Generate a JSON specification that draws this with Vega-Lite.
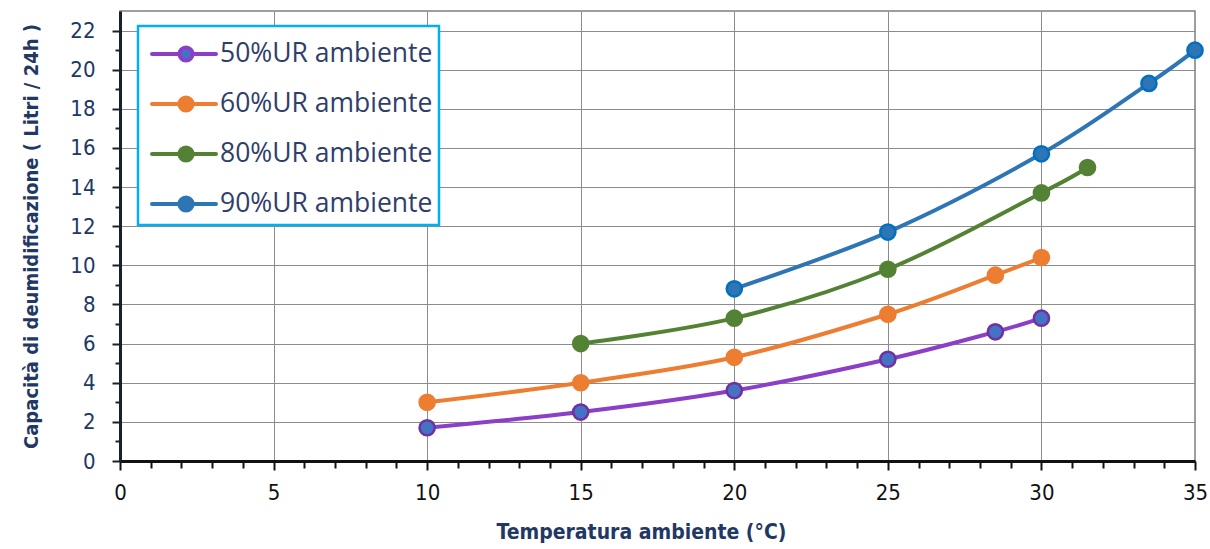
{
  "$schema": "https://vega.github.io/schema/vega-lite/v6.json",
  "autosize": {"type": "none"},
  "width": 1075,
  "height": 450,
  "padding": {"left": 120, "top": 11, "right": 15, "bottom": 88},
  "background": "white",
  "config": {
    "view": {"stroke": "#7F7F7F", "strokeWidth": 1.5},
    "font": "'DejaVu Sans Condensed', Roboto, sans-serif"
  },
  "data": {
    "values": [
      {"serie": "50%UR ambiente", "t": 10, "c": 1.7},
      {"serie": "50%UR ambiente", "t": 15, "c": 2.5},
      {"serie": "50%UR ambiente", "t": 20, "c": 3.6},
      {"serie": "50%UR ambiente", "t": 25, "c": 5.2},
      {"serie": "50%UR ambiente", "t": 28.5, "c": 6.6},
      {"serie": "50%UR ambiente", "t": 30, "c": 7.3},
      {"serie": "60%UR ambiente", "t": 10, "c": 3.0},
      {"serie": "60%UR ambiente", "t": 15, "c": 4.0},
      {"serie": "60%UR ambiente", "t": 20, "c": 5.3},
      {"serie": "60%UR ambiente", "t": 25, "c": 7.5},
      {"serie": "60%UR ambiente", "t": 28.5, "c": 9.5},
      {"serie": "60%UR ambiente", "t": 30, "c": 10.4},
      {"serie": "80%UR ambiente", "t": 15, "c": 6.0},
      {"serie": "80%UR ambiente", "t": 20, "c": 7.3},
      {"serie": "80%UR ambiente", "t": 25, "c": 9.8},
      {"serie": "80%UR ambiente", "t": 30, "c": 13.7},
      {"serie": "80%UR ambiente", "t": 31.5, "c": 15.0},
      {"serie": "90%UR ambiente", "t": 20, "c": 8.8},
      {"serie": "90%UR ambiente", "t": 25, "c": 11.7},
      {"serie": "90%UR ambiente", "t": 30, "c": 15.7},
      {"serie": "90%UR ambiente", "t": 33.5, "c": 19.3},
      {"serie": "90%UR ambiente", "t": 35, "c": 21.0}
    ]
  },
  "encoding": {
    "x": {
      "field": "t", "type": "quantitative",
      "scale": {"domain": [0, 35], "nice": false, "zero": false},
      "axis": {
        "title": "Temperatura ambiente (°C)",
        "values": [0,1,2,3,4,5,6,7,8,9,10,11,12,13,14,15,16,17,18,19,20,21,22,23,24,25,26,27,28,29,30,31,32,33,34,35],
        "labelExpr": "datum.value % 5 === 0 ? datum.label : ''",
        "labelOverlap": false,
        "labelFont": "'DejaVu Sans Condensed', Roboto, sans-serif",
        "labelFontSize": 22,
        "labelColor": "#111111",
        "labelPadding": 12,
        "labelFlush": false,
        "domainColor": "#111111",
        "domainWidth": 3,
        "tickColor": "#111111",
        "tickWidth": 2,
        "tickSize": {"condition": {"test": "datum.value % 5 === 0", "value": 9}, "value": 7},
        "grid": true,
        "gridColor": "#8C8C8C",
        "gridWidth": 1,
        "gridOpacity": {"condition": {"test": "datum.value % 5 === 0 && datum.value > 0 && datum.value < 35", "value": 1}, "value": 0},
        "titleFont": "'DejaVu Sans Condensed', Roboto, sans-serif",
        "titleFontSize": 21,
        "titleFontWeight": "bold",
        "titleColor": "#1F3864",
        "titlePadding": 18,
        "titleX": 521
      }
    },
    "y": {
      "field": "c", "type": "quantitative",
      "scale": {"domain": [0, 23], "nice": false},
      "axis": {
        "title": "Capacità di deumidificazione ( Litri / 24h )",
        "values": [0,1,2,3,4,5,6,7,8,9,10,11,12,13,14,15,16,17,18,19,20,21,22],
        "labelExpr": "datum.value % 2 === 0 ? datum.label : ''",
        "labelOverlap": false,
        "labelFont": "'DejaVu Sans Condensed', Roboto, sans-serif",
        "labelFontSize": 22,
        "labelColor": "#203864",
        "labelPadding": 17,
        "labelFlush": false,
        "domainColor": "#1A2030",
        "domainWidth": 3,
        "tickColor": "#1A2030",
        "tickWidth": 2,
        "tickSize": {"condition": {"test": "datum.value % 2 === 0", "value": 8}, "value": 5},
        "grid": true,
        "gridColor": "#8C8C8C",
        "gridWidth": 1,
        "gridOpacity": {"condition": {"test": "datum.value % 2 === 0 && datum.value > 0", "value": 1}, "value": 0},
        "titleFont": "'DejaVu Sans Condensed', Roboto, sans-serif",
        "titleFontSize": 20,
        "titleFontWeight": "bold",
        "titleColor": "#1F3864",
        "titlePadding": 28
      }
    }
  },
  "layer": [
    {
      "mark": {"type": "line", "strokeWidth": 4, "interpolate": "cardinal", "strokeCap": "round"},
      "encoding": {
        "color": {
          "field": "serie", "type": "nominal",
          "scale": {
            "domain": ["50%UR ambiente", "60%UR ambiente", "80%UR ambiente", "90%UR ambiente"],
            "range": ["#8B3FC8", "#ED7D31", "#548235", "#2E75B6"]
          },
          "legend": {
            "title": null,
            "orient": "none",
            "legendX": 18,
            "legendY": 15,
            "padding": 6,
            "fillColor": "white",
            "strokeColor": "#00B0F0",
            "symbolType": "M-0.7,0L0.67,0M1.33,0L2.5,0M1.33,0A0.33,0.33,0,1,1,0.67,0A0.33,0.33,0,1,1,1.33,0Z",
            "symbolSize": 1600,
            "symbolStrokeWidth": 4,
            "rowPadding": 13,
            "labelOffset": 32,
            "labelFont": "Open Sans",
            "labelFontSize": 26.5,
            "labelColor": "#2F3E6B",
            "labelLimit": 400,
            "encode": {
              "legend": {
                "update": {"strokeWidth": {"value": 2.5}}
              },
              "symbols": {
                "update": {
                  "fill": {"scale": "fill", "field": "value"},
                  "fillOpacity": {"value": 1},
                  "strokeCap": {"value": "round"}
                }
              }
            }
          }
        }
      }
    },
    {
      "mark": {"type": "point", "filled": true, "size": 230, "strokeWidth": 2.5, "opacity": 1, "fillOpacity": 1, "strokeOpacity": 1},
      "encoding": {
        "fill": {
          "field": "serie", "type": "nominal",
          "scale": {
            "domain": ["50%UR ambiente", "60%UR ambiente", "80%UR ambiente", "90%UR ambiente"],
            "range": ["#4472C4", "#ED7D31", "#548235", "#2E75B6"]
          },
          "legend": null
        },
        "stroke": {
          "field": "serie", "type": "nominal",
          "scale": {
            "domain": ["50%UR ambiente", "60%UR ambiente", "80%UR ambiente", "90%UR ambiente"],
            "range": ["#7030A0", "#ED7D31", "#548235", "#0070C0"]
          },
          "legend": null
        }
      }
    }
  ]
}
